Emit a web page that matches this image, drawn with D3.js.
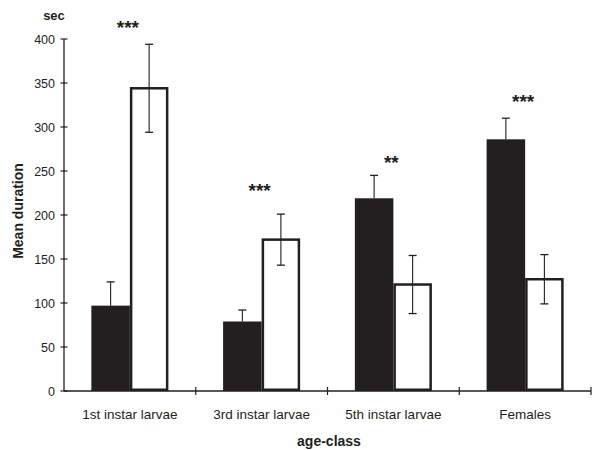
<!DOCTYPE html>
<html>
<head>
<meta charset="utf-8">
<style>
  body { margin: 0; background: #fff; }
  text { font-family: "Liberation Sans", Arial, sans-serif; fill: #231f20; }
</style>
</head>
<body>
<svg width="592" height="450"></svg>
<script src="https://d3js.org/d3.v7.min.js"></script>
<script>

// Data
var categories = ["1st instar larvae", "3rd instar larvae", "5th instar larvae", "Females"];
var blackMean = [97, 79, 219, 286];
var blackErr = [27, 13, 26, 24];
var whiteMean = [344, 172, 121, 127];
var whiteErr = [50, 29, 33, 28];
var stars = ["***", "***", "**", "***"];
var starLevel = [418, 233, 265, 334];
var yTicks = [0, 50, 100, 150, 200, 250, 300, 350, 400];

var ink = "#231f20";
var svg = d3.select("svg");

var x = d3.scaleBand()
    .domain(categories)
    .range([64, 591])
    .padding(0);

var sub = d3.scaleBand()
    .domain(["black", "white"])
    .range([0, x.bandwidth()])
    .paddingInner(0)
    .paddingOuter(0.71);

var y = d3.scaleLinear()
    .domain([0, 400])
    .range([391, 39]);

var rows = categories.map(function(c, i) {
  return {cat: c, black: blackMean[i], bErr: blackErr[i], white: whiteMean[i], wErr: whiteErr[i],
          star: stars[i], level: starLevel[i]};
});

// y axis
var yAxis = svg.append("g");
yAxis.append("line")
    .attr("x1", 64).attr("x2", 64)
    .attr("y1", y(0)).attr("y2", y(400))
    .attr("stroke", ink).attr("stroke-width", 1.3);
yAxis.selectAll(".yt")
    .data(yTicks)
  .enter().append("line")
    .attr("x1", 60.5).attr("x2", 67.5)
    .attr("y1", function(d) { return y(d); })
    .attr("y2", function(d) { return y(d); })
    .attr("stroke", ink).attr("stroke-width", 1.2);
yAxis.selectAll(".yl")
    .data(yTicks)
  .enter().append("text")
    .attr("x", 55)
    .attr("y", function(d) { return y(d); })
    .attr("dy", "0.36em")
    .attr("text-anchor", "end")
    .attr("font-size", 12.5)
    .text(function(d) { return d; });

// bars
var g = svg.selectAll(".grp")
    .data(rows)
  .enter().append("g")
    .attr("transform", function(d) { return "translate(" + x(d.cat) + ",0)"; });

g.append("rect")
    .attr("x", sub("black"))
    .attr("width", sub.bandwidth())
    .attr("y", function(d) { return y(d.black); })
    .attr("height", function(d) { return y(0) - y(d.black); })
    .attr("fill", ink);

g.append("rect")
    .attr("x", sub("white") + 1.25)
    .attr("width", sub.bandwidth() - 2.5)
    .attr("y", function(d) { return y(d.white); })
    .attr("height", function(d) { return y(0) - y(d.white) - 1.25; })
    .attr("fill", "#fff")
    .attr("stroke", ink)
    .attr("stroke-width", 2.5);

// error bars
function errBar(sel, cx, top, bot) {
  sel.append("line")
      .attr("x1", cx).attr("x2", cx)
      .attr("y1", top).attr("y2", bot)
      .attr("stroke", ink).attr("stroke-width", 1.1);
  sel.append("line")
      .attr("x1", function(d) { return cx(d) - 4; })
      .attr("x2", function(d) { return cx(d) + 4; })
      .attr("y1", top).attr("y2", top)
      .attr("stroke", ink).attr("stroke-width", 1.3);
}
var bx = function() { return sub("black") + sub.bandwidth() / 2; };
var wx = function() { return sub("white") + sub.bandwidth() / 2; };

errBar(g, bx,
    function(d) { return y(d.black + d.bErr); },
    function(d) { return y(d.black); });

var we = g.append("g");
errBar(we, wx,
    function(d) { return y(d.white + d.wErr); },
    function(d) { return y(d.white - d.wErr); });
we.append("line")
    .attr("x1", function() { return wx() - 4; })
    .attr("x2", function() { return wx() + 4; })
    .attr("y1", function(d) { return y(d.white - d.wErr); })
    .attr("y2", function(d) { return y(d.white - d.wErr); })
    .attr("stroke", ink).attr("stroke-width", 1.3);

// significance stars
g.append("text")
    .attr("x", x.bandwidth() / 2 - 2)
    .attr("y", function(d) { return y(d.level) + 11; })
    .attr("text-anchor", "middle")
    .attr("font-size", 19)
    .attr("font-weight", "bold")
    .text(function(d) { return d.star; });

// x axis
var xAxis = svg.append("g");
xAxis.append("line")
    .attr("x1", 64).attr("x2", 591)
    .attr("y1", y(0)).attr("y2", y(0))
    .attr("stroke", ink).attr("stroke-width", 1.3);
xAxis.selectAll(".xt")
    .data(categories)
  .enter().append("line")
    .attr("x1", function(d) { return x(d) + x.bandwidth(); })
    .attr("x2", function(d) { return x(d) + x.bandwidth(); })
    .attr("y1", y(0) - 4).attr("y2", y(0) + 4)
    .attr("stroke", ink).attr("stroke-width", 1.2);
xAxis.selectAll(".xl")
    .data(categories)
  .enter().append("text")
    .attr("x", function(d) { return x(d) + x.bandwidth() / 2; })
    .attr("y", 419)
    .attr("text-anchor", "middle")
    .attr("font-size", 13.5)
    .text(function(d) { return d; });

// titles
svg.append("text")
    .attr("x", 54).attr("y", 20)
    .attr("text-anchor", "middle")
    .attr("font-size", 13)
    .attr("font-weight", "bold")
    .text("sec");

svg.append("text")
    .attr("transform", "translate(23,211) rotate(-90)")
    .attr("text-anchor", "middle")
    .attr("font-size", 14)
    .attr("font-weight", "bold")
    .text("Mean duration");

svg.append("text")
    .attr("x", 329).attr("y", 446)
    .attr("text-anchor", "middle")
    .attr("font-size", 14)
    .attr("font-weight", "bold")
    .text("age-class");

</script>
</body>
</html>
